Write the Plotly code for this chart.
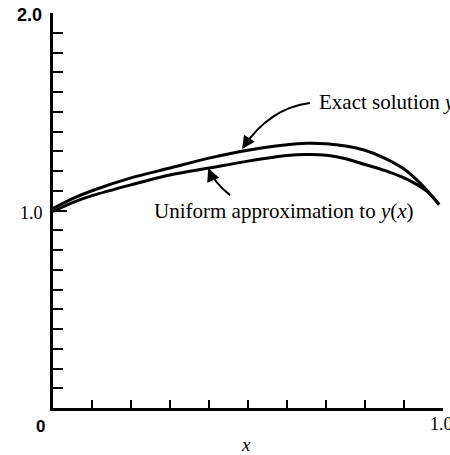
import plotly.graph_objects as go

# Data
x_vals = [0, 0.05, 0.1, 0.2, 0.3, 0.4, 0.5, 0.6, 0.65, 0.7, 0.75, 0.8, 0.85, 0.9, 0.93, 0.96, 0.99]
exact_y = [1.01, 1.06, 1.10, 1.165, 1.215, 1.265, 1.305, 1.333, 1.340, 1.338, 1.327, 1.305, 1.265, 1.21, 1.16, 1.10, 1.03]
approx_y = [0.995, 1.04, 1.075, 1.13, 1.18, 1.215, 1.25, 1.278, 1.283, 1.28, 1.262, 1.233, 1.203, 1.165, 1.135, 1.095, 1.03]

SERIF = "Liberation Serif, Times New Roman, serif"
SANS = "Liberation Sans, Arial, sans-serif"

fig = go.Figure()
fig.add_trace(go.Scatter(x=x_vals, y=exact_y, mode="lines",
                         line=dict(color="black", width=3, shape="spline", smoothing=0.8),
                         name="Exact solution"))
fig.add_trace(go.Scatter(x=x_vals, y=approx_y, mode="lines",
                         line=dict(color="black", width=3, shape="spline", smoothing=0.8),
                         name="Uniform approximation"))

# curved leader lines
fig.add_shape(type="path", xref="x", yref="y",
              path="M 0.659,1.544 Q 0.556,1.519 0.487,1.318",
              line=dict(color="black", width=2))
fig.add_shape(type="path", xref="x", yref="y",
              path="M 0.454,1.078 Q 0.415,1.138 0.400,1.207",
              line=dict(color="black", width=2))

annotations = [
    # arrowheads
    dict(x=0.485, y=1.311, xref="x", yref="y", text="", showarrow=True,
         ax=8, ay=-12, arrowhead=2, arrowsize=1.3, arrowwidth=2, arrowcolor="black"),
    dict(x=0.398, y=1.214, xref="x", yref="y", text="", showarrow=True,
         ax=5, ay=12, arrowhead=2, arrowsize=1.3, arrowwidth=2, arrowcolor="black"),
    # labels
    dict(x=0.677, y=1.549, xref="x", yref="y", text="Exact solution <i>y</i>",
         showarrow=False, xanchor="left", yanchor="middle",
         font=dict(family=SERIF, size=21, color="black")),
    dict(x=0.254, y=1.0, xref="x", yref="y", text="Uniform approximation to <i>y</i>(<i>x</i>)",
         showarrow=False, xanchor="left", yanchor="middle",
         font=dict(family=SERIF, size=21, color="black")),
    # tick labels (mixed fonts as in the reference)
    dict(x=-0.059, y=0.996, xref="paper", yref="paper", text="<b>2.0</b>", showarrow=False,
         xanchor="center", yanchor="middle", font=dict(family=SANS, size=18, color="black")),
    dict(x=-0.056, y=0.494, xref="paper", yref="paper", text="1.0", showarrow=False,
         xanchor="center", yanchor="middle", font=dict(family=SERIF, size=18, color="black")),
    dict(x=-0.033, y=-0.048, xref="paper", yref="paper", text="<b>0</b>", showarrow=False,
         xanchor="center", yanchor="middle", font=dict(family=SANS, size=17, color="black")),
    dict(x=0.9615, y=-0.0405, xref="paper", yref="paper", text="1.0", showarrow=False,
         xanchor="left", yanchor="middle", font=dict(family=SERIF, size=18, color="black")),
    dict(x=0.495, y=-0.092, xref="paper", yref="paper", text="<i>x</i>", showarrow=False,
         xanchor="center", yanchor="middle", font=dict(family=SERIF, size=19, color="black")),
]

fig.update_layout(
    width=450, height=455,
    margin=dict(l=53, r=7, t=13, b=47),
    paper_bgcolor="white", plot_bgcolor="white",
    showlegend=False,
    annotations=annotations,
)

fig.update_xaxes(range=[0, 1], showgrid=False, zeroline=False,
                 showline=True, linecolor="black", linewidth=2.5,
                 ticks="inside", tickvals=[0, 1], ticklen=15, tickwidth=2, tickcolor="black",
                 showticklabels=False,
                 minor=dict(ticks="inside", dtick=0.1, tick0=0, ticklen=8, tickwidth=2, tickcolor="black"))
fig.update_yaxes(range=[0, 2], showgrid=False, zeroline=False,
                 showline=True, linecolor="black", linewidth=2.5,
                 ticks="inside", tickvals=[0, 1, 2], ticklen=14, tickwidth=2, tickcolor="black",
                 showticklabels=False,
                 minor=dict(ticks="inside", dtick=0.1, tick0=0, ticklen=10, tickwidth=2, tickcolor="black"))

fig.write_html("out.html")
